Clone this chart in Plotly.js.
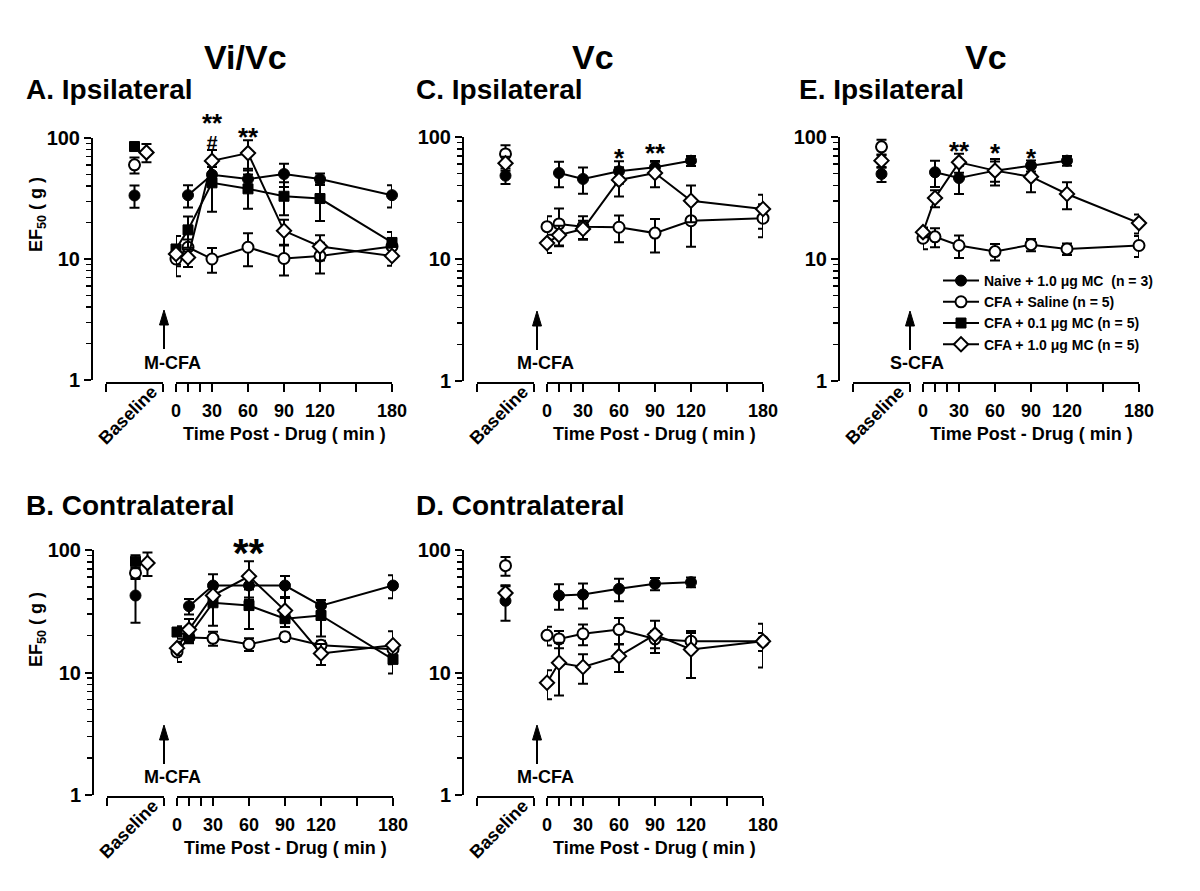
<!DOCTYPE html>
<html>
<head>
<meta charset="utf-8">
<script src="https://cdn.plot.ly/plotly-3.0.1.min.js"></script>
<style>html,body{margin:0;padding:0;background:#fff;}#chart{width:1200px;height:891px;}</style>
</head>
<body>
<div id="chart"></div>
<script>
// ---------- DATA ----------
// index 0 = Baseline, then Time Post-Drug (min)
const categories = ['Baseline', 0, 10, 30, 60, 90, 120, 180];
const timePoints = [0, 10, 30, 60, 90, 120, 180];
const timeTickVals = [0, 30, 60, 90, 120, 180];
const timeTickText = ['0', '30', '60', '90', '120', '180'];
const timeMinorVals = [10, 20, 150];
const yTickVals = [1, 10, 100];
const yTickText = ['1', '10', '100'];
const yMinorVals = [2, 3, 4, 5, 6, 7, 8, 9, 20, 30, 40, 50, 60, 70, 80, 90];

const seriesNames = ['Naive + 1.0 μg MC  (n = 3)', 'CFA + Saline (n = 5)', 'CFA + 0.1 μg MC (n = 5)', 'CFA + 1.0 μg MC (n = 5)'];

// Panel A: Vi/Vc Ipsilateral
const A_naive     = [33.5, null, 33.7, 49.7, 45.8, 50.4, 45.8, 33.7];
const A_naive_sem = [7, null, 7, 8, 10, 11, 5, 7];
const A_saline     = [60, 10, 12.5, 10, 12.5, 10.1, 10.6, 12.7];
const A_saline_sem = [9, 2.8, 2, 2.3, 3.8, 2.8, 3, 2];
const A_mc01     = [85, 12.1, 17.4, 42.6, 38, 33, 31.6, 13.7];
const A_mc01_sem = [5, 3.4, 5, 18, 12, 10, 11, 3];
const A_mc10     = [76, 11, 10.3, 64.7, 75, 17.1, 12.7, 10.6];
const A_mc10_sem = [13, 2, 1.7, 15, 21, 4, 3, 1.8];

// Panel B: Vi/Vc Contralateral
const B_naive     = [42.5, null, 34.8, 51.3, 51.3, 51.3, 35.1, 51.3];
const B_naive_sem = [17, null, 5, 12, 12, 10, 4, 11];
const B_saline     = [65, 14.7, 19.3, 19, 17, 19.6, 16.7, 15.5];
const B_saline_sem = [7, 2.5, 2, 2.5, 2, 1.5, 1.5, 2];
const B_mc01     = [80.8, 21.4, 20, 37.1, 35.2, 27.5, 29.2, 12.8];
const B_mc01_sem = [10, 2.5, 2, 13, 12.5, 2, 9.5, 3];
const B_mc10     = [78.4, 15.8, 22.4, 42.5, 61, 32, 14.3, 16.7];
const B_mc10_sem = [17, 2, 5, 6, 20, 8.5, 2.8, 5];

// Panel C: Vc Ipsilateral
const C_naive     = [48.2, null, 50.7, 45.3, 52.4, 56.5, 63.9, null];
const C_naive_sem = [7, null, 12, 11, 11, 7, 6, null];
const C_saline     = [72.6, 18.4, 19.4, 18.4, 18.2, 16.3, 20.6, 21.6];
const C_saline_sem = [13, 4, 6.5, 4, 4.5, 5, 8, 6.5];
const C_mc10     = [61, 13.5, 15.7, 17.6, 44.5, 50.7, 30, 25.7];
const C_mc10_sem = [8, 2.3, 3, 3, 12, 12, 10, 8];

// Panel D: Vc Contralateral
const D_naive     = [38.5, null, 42.5, 43.3, 48.2, 53, 54.6, null];
const D_naive_sem = [12, null, 10, 10, 10, 6, 5, null];
const D_saline     = [74.5, 20.1, 18.8, 20.7, 22.4, 18.8, 18, 18];
const D_saline_sem = [13, 3.5, 3, 4, 5.5, 3, 3, 3];
const D_mc10     = [44.5, 8.25, 12, 11.1, 13.6, 20.4, 15.4, 18];
const D_mc10_sem = [7, 2.2, 5.5, 3, 3.5, 6, 6.4, 7];

// Panel E: Vc Ipsilateral (S-CFA)
const E_naive     = [49.8, null, 51.4, 46.1, 53, 58.2, 64, null];
const E_naive_sem = [7, null, 12.5, 12, 10, 6, 6, null];
const E_saline     = [83, 14.8, 15.2, 12.9, 11.5, 13.1, 12.1, 12.9];
const E_saline_sem = [12, 2.8, 2.7, 2.7, 1.8, 1.5, 1.3, 2.5];
const E_mc10     = [64, 16.6, 31.6, 62, 53, 47.3, 34.1, 19.7];
const E_mc10_sem = [8, 1.5, 5, 11, 13, 12, 8.5, 3.5];

// ---------- LAYOUT HELPERS ----------
const W = 1200, H = 891;
const FONT = 'Liberation Sans, Arial, Helvetica, sans-serif';
const px = x => x / W;
const py = y => 1 - y / H;

const styles = [
  {symbol: 'circle', size: 11, color: 'black', line: {color: 'black', width: 1}},
  {symbol: 'circle', size: 11, color: 'white', line: {color: 'black', width: 2}},
  {symbol: 'square', size: 10, color: 'black', line: {color: 'black', width: 1}},
  {symbol: 'diamond', size: 11, color: 'white', line: {color: 'black', width: 2}}
];

const panels = [
  {axX: 92, top: 138, bot: 380, xline: 383, diamondShift: true,
   series: [[0, A_naive, A_naive_sem], [1, A_saline, A_saline_sem], [2, A_mc01, A_mc01_sem], [3, A_mc10, A_mc10_sem]]},
  {axX: 93, top: 550, bot: 795, xline: 797, diamondShift: true,
   series: [[0, B_naive, B_naive_sem], [1, B_saline, B_saline_sem], [2, B_mc01, B_mc01_sem], [3, B_mc10, B_mc10_sem]]},
  {axX: 463, top: 137, bot: 381, xline: 383, diamondShift: false,
   series: [[0, C_naive, C_naive_sem], [1, C_saline, C_saline_sem], [3, C_mc10, C_mc10_sem]]},
  {axX: 463, top: 550, bot: 795, xline: 797, diamondShift: false,
   series: [[0, D_naive, D_naive_sem], [1, D_saline, D_saline_sem], [3, D_mc10, D_mc10_sem]]},
  {axX: 839, top: 137, bot: 381, xline: 383, diamondShift: false,
   series: [[0, E_naive, E_naive_sem], [1, E_saline, E_saline_sem], [3, E_mc10, E_mc10_sem]]}
];

const axName = (l, n) => l + 'axis' + (n === 1 ? '' : n);
const axRef = (l, n) => l + (n === 1 ? '' : n);
const boldFont = (size) => ({family: FONT, size: size, color: 'black', weight: 'bold'});

const layout = {
  width: W, height: H,
  margin: {l: 0, r: 0, t: 0, b: 0},
  paper_bgcolor: 'white', plot_bgcolor: 'rgba(0,0,0,0)',
  showlegend: true,
  legend: {x: px(938), y: py(265), xanchor: 'left', yanchor: 'top', bgcolor: 'rgba(0,0,0,0)',
           font: boldFont(14), traceorder: 'normal', itemwidth: 36, tracegroupgap: 0},
  annotations: [], shapes: []
};
const traces = [];
const legendOwner = {0: 4, 1: 4, 2: 0, 3: 4}; // which panel shows each legend entry

panels.forEach((p, i) => {
  const yN = i + 1, xbN = 2 * i + 1, xtN = 2 * i + 2;
  layout[axName('y', yN)] = {
    type: 'log', range: [0, 2], domain: [py(p.bot), py(p.top)],
    anchor: 'free', position: px(p.axX),
    showline: true, linecolor: 'black', linewidth: 2, mirror: false,
    ticks: 'outside', ticklen: 7, tickwidth: 2, tickcolor: 'black',
    tickmode: 'array', tickvals: yTickVals, ticktext: yTickText, tickfont: boldFont(20),
    minor: {tickmode: 'array', tickvals: yMinorVals, ticks: 'outside', ticklen: 5, tickwidth: 1.5, tickcolor: 'black', showgrid: false},
    showgrid: false, zeroline: false, fixedrange: true
  };
  layout[axName('x', xbN)] = {
    domain: [px(p.axX + 14), px(p.axX + 71)], range: [0, 1],
    anchor: 'free', position: py(p.xline),
    showline: true, linecolor: 'black', linewidth: 2,
    ticks: 'outside', ticklen: 8, tickwidth: 2, tickcolor: 'black',
    tickmode: 'array', tickvals: [0, 1], showticklabels: false,
    showgrid: false, zeroline: false, fixedrange: true
  };
  layout[axName('x', xtN)] = {
    domain: [px(p.axX + 84), px(p.axX + 300)], range: [0, 180],
    anchor: 'free', position: py(p.xline),
    showline: true, linecolor: 'black', linewidth: 2,
    ticks: 'outside', ticklen: 8, tickwidth: 2, tickcolor: 'black',
    tickmode: 'array', tickvals: timeTickVals, ticktext: timeTickText,
    minor: {tickmode: 'array', tickvals: timeMinorVals, ticks: 'outside', ticklen: 8, tickwidth: 2, tickcolor: 'black', showgrid: false},
    tickfont: boldFont(18), ticklabelstandoff: 3,
    showgrid: false, zeroline: false, fixedrange: true
  };

  p.series.forEach(([k, vals, sem]) => {
    const blx = (k === 3 && p.diamondShift) ? 0.71 : 0.5;
    const eb = (arr) => ({type: 'data', array: arr, visible: true, color: 'black', thickness: 2, width: 5});
    traces.push({
      type: 'scatter', mode: 'markers', x: [blx], y: [vals[0]],
      error_y: eb([sem[0]]), marker: styles[k], cliponaxis: false,
      xaxis: axRef('x', xbN), yaxis: axRef('y', yN), showlegend: false, hoverinfo: 'skip'
    });
    traces.push({
      type: 'scatter', mode: 'lines+markers', x: timePoints, y: vals.slice(1),
      error_y: eb(sem.slice(1)), marker: styles[k], line: {color: 'black', width: 2},
      cliponaxis: false, xaxis: axRef('x', xtN), yaxis: axRef('y', yN),
      name: seriesNames[k], showlegend: legendOwner[k] === i, legendrank: k + 1
    });
  });

  // Baseline label
  layout.annotations.push({xref: 'paper', yref: 'paper', x: px(p.axX + 36), y: py(p.xline + 32),
    text: 'Baseline', showarrow: false, textangle: -45, font: boldFont(18), xanchor: 'center', yanchor: 'middle'});
  // Time axis title
  layout.annotations.push({xref: 'paper', yref: 'paper', x: px(p.axX + 192), y: py(p.xline + 51),
    text: 'Time Post - Drug ( min )', showarrow: false, font: boldFont(18), xanchor: 'center', yanchor: 'middle'});
});

// Injection arrows (shapes) and labels
const arrows = [
  {tipX: 164, tipY: 310, txtX: 172, txtY: 363, txt: 'M-CFA'},
  {tipX: 164, tipY: 725, txtX: 172, txtY: 777, txt: 'M-CFA'},
  {tipX: 537, tipY: 311, txtX: 545, txtY: 363, txt: 'M-CFA'},
  {tipX: 537, tipY: 725, txtX: 545, txtY: 777, txt: 'M-CFA'},
  {tipX: 910, tipY: 311, txtX: 917, txtY: 363, txt: 'S-CFA'}
];
arrows.forEach(a => {
  layout.shapes.push({type: 'line', xref: 'paper', yref: 'paper',
    x0: px(a.tipX), x1: px(a.tipX), y0: py(a.tipY + 10), y1: py(a.tipY + 39),
    line: {color: 'black', width: 2}});
  layout.shapes.push({type: 'path', xref: 'paper', yref: 'paper',
    path: 'M ' + px(a.tipX) + ' ' + py(a.tipY) + ' L ' + px(a.tipX - 4.5) + ' ' + py(a.tipY + 15) +
          ' L ' + px(a.tipX + 4.5) + ' ' + py(a.tipY + 15) + ' Z',
    fillcolor: 'black', line: {color: 'black', width: 1}});
  layout.annotations.push({xref: 'paper', yref: 'paper', x: px(a.txtX), y: py(a.txtY), text: a.txt,
    showarrow: false, font: boldFont(18), xanchor: 'center', yanchor: 'middle'});
});

// Titles
const titles = [
  {x: 246, y: 57, t: 'Vi/Vc', s: 34, anchor: 'center'},
  {x: 593, y: 57, t: 'Vc', s: 34, anchor: 'center'},
  {x: 986, y: 57, t: 'Vc', s: 34, anchor: 'center'},
  {x: 24, y: 90, t: 'A. Ipsilateral', s: 28, anchor: 'left'},
  {x: 414, y: 90, t: 'C. Ipsilateral', s: 28, anchor: 'left'},
  {x: 797, y: 90, t: 'E. Ipsilateral', s: 28, anchor: 'left'},
  {x: 24, y: 505, t: 'B. Contralateral', s: 28, anchor: 'left'},
  {x: 414, y: 505, t: 'D. Contralateral', s: 28, anchor: 'left'}
];
titles.forEach(t => layout.annotations.push({xref: 'paper', yref: 'paper', x: px(t.x), y: py(t.y),
  text: t.t, showarrow: false, font: boldFont(t.s), xanchor: t.anchor, yanchor: 'middle'}));

// Y axis labels
[215, 630].forEach(yc => layout.annotations.push({xref: 'paper', yref: 'paper', x: px(37), y: py(yc),
  text: 'EF<sub>50</sub> ( g )', showarrow: false, textangle: -90, font: boldFont(18), xanchor: 'center', yanchor: 'middle'}));

// Significance marks (x in minutes on each time axis)
const sig = [
  {ax: 'x2', t: 30, y: 131, s: '<span style="font-size:26px">**</span><br><span style="font-size:20px">#</span>', size: 14},
  {ax: 'x2', t: 60, y: 137, s: '**', size: 26},
  {ax: 'x4', t: 60, y: 553, s: '**', size: 40},
  {ax: 'x6', t: 60, y: 158, s: '*', size: 26},
  {ax: 'x6', t: 90, y: 153, s: '**', size: 26},
  {ax: 'x10', t: 30, y: 151, s: '**', size: 26},
  {ax: 'x10', t: 60, y: 153, s: '*', size: 26},
  {ax: 'x10', t: 90, y: 158, s: '*', size: 26}
];
sig.forEach(m => layout.annotations.push({xref: m.ax, yref: 'paper', x: m.t, y: py(m.y), text: m.s,
  showarrow: false, font: boldFont(m.size), xanchor: 'center', yanchor: 'middle'}));

Plotly.newPlot('chart', traces, layout, {staticPlot: true, displayModeBar: false});
</script>
</body>
</html>
